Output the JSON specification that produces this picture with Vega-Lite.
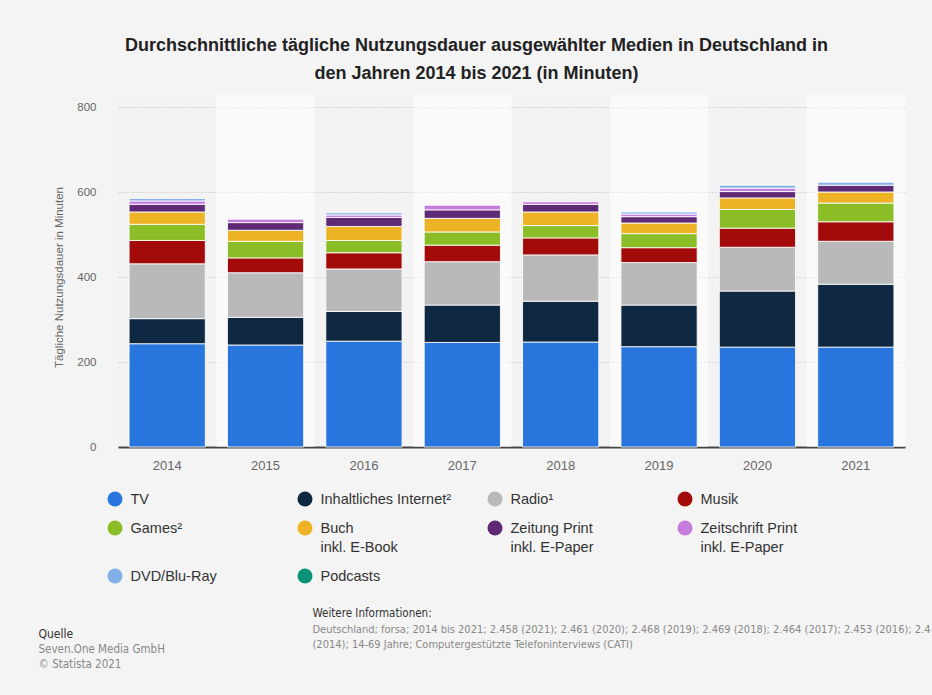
{
  "$schema": "https://vega.github.io/schema/vega-lite/v6.json",
  "width": 787,
  "height": 340,
  "autosize": {"type": "none"},
  "padding": {"left": 118, "top": 107, "right": 27, "bottom": 248},
  "background": "#f4f4f4",
  "config": {
    "view": {"stroke": null},
    "font": "Liberation Sans",
    "style": {"guide-label": {"dy": -6, "lineHeight": 18.5}}
  },
  "title": {
    "text": ["Durchschnittliche tägliche Nutzungsdauer ausgewählter Medien in Deutschland in", "den Jahren 2014 bis 2021 (in Minuten)"],
    "fontSize": 18,
    "fontWeight": "bold",
    "color": "#222222",
    "lineHeight": 28,
    "anchor": "middle",
    "frame": "group",
    "dx": -35,
    "offset": 12
  },
  "datasets": {
    "hell": [{"Jahr": "2015"}, {"Jahr": "2017"}, {"Jahr": "2019"}, {"Jahr": "2021"}],
    "dunkel": [{"Jahr": "2014"}, {"Jahr": "2016"}, {"Jahr": "2018"}, {"Jahr": "2020"}],
    "medien": [
      {"Medium": "TV", "Rang": 1},
      {"Medium": "Inhaltliches Internet²", "Rang": 2},
      {"Medium": "Radio¹", "Rang": 3},
      {"Medium": "Musik", "Rang": 4},
      {"Medium": "Games²", "Rang": 5},
      {"Medium": "Buch inkl. E-Book", "Rang": 6},
      {"Medium": "Zeitung Print inkl. E-Paper", "Rang": 7},
      {"Medium": "Zeitschrift Print inkl. E-Paper", "Rang": 8},
      {"Medium": "DVD/Blu-Ray", "Rang": 9},
      {"Medium": "Podcasts", "Rang": 10}
    ],
    "werte": [
      {"Jahr": "2014", "Medium": "TV", "Minuten": 243},
      {"Jahr": "2014", "Medium": "Inhaltliches Internet²", "Minuten": 59},
      {"Jahr": "2014", "Medium": "Radio¹", "Minuten": 129},
      {"Jahr": "2014", "Medium": "Musik", "Minuten": 55},
      {"Jahr": "2014", "Medium": "Games²", "Minuten": 38},
      {"Jahr": "2014", "Medium": "Buch inkl. E-Book", "Minuten": 29},
      {"Jahr": "2014", "Medium": "Zeitung Print inkl. E-Paper", "Minuten": 18},
      {"Jahr": "2014", "Medium": "Zeitschrift Print inkl. E-Paper", "Minuten": 8},
      {"Jahr": "2014", "Medium": "DVD/Blu-Ray", "Minuten": 6},
      {"Jahr": "2015", "Medium": "TV", "Minuten": 240},
      {"Jahr": "2015", "Medium": "Inhaltliches Internet²", "Minuten": 65},
      {"Jahr": "2015", "Medium": "Radio¹", "Minuten": 105},
      {"Jahr": "2015", "Medium": "Musik", "Minuten": 35},
      {"Jahr": "2015", "Medium": "Games²", "Minuten": 39},
      {"Jahr": "2015", "Medium": "Buch inkl. E-Book", "Minuten": 26},
      {"Jahr": "2015", "Medium": "Zeitung Print inkl. E-Paper", "Minuten": 18},
      {"Jahr": "2015", "Medium": "Zeitschrift Print inkl. E-Paper", "Minuten": 8},
      {"Jahr": "2016", "Medium": "TV", "Minuten": 249},
      {"Jahr": "2016", "Medium": "Inhaltliches Internet²", "Minuten": 70},
      {"Jahr": "2016", "Medium": "Radio¹", "Minuten": 100},
      {"Jahr": "2016", "Medium": "Musik", "Minuten": 38},
      {"Jahr": "2016", "Medium": "Games²", "Minuten": 29},
      {"Jahr": "2016", "Medium": "Buch inkl. E-Book", "Minuten": 33},
      {"Jahr": "2016", "Medium": "Zeitung Print inkl. E-Paper", "Minuten": 21},
      {"Jahr": "2016", "Medium": "Zeitschrift Print inkl. E-Paper", "Minuten": 6},
      {"Jahr": "2016", "Medium": "DVD/Blu-Ray", "Minuten": 5},
      {"Jahr": "2017", "Medium": "TV", "Minuten": 246},
      {"Jahr": "2017", "Medium": "Inhaltliches Internet²", "Minuten": 88},
      {"Jahr": "2017", "Medium": "Radio¹", "Minuten": 102},
      {"Jahr": "2017", "Medium": "Musik", "Minuten": 39},
      {"Jahr": "2017", "Medium": "Games²", "Minuten": 31},
      {"Jahr": "2017", "Medium": "Buch inkl. E-Book", "Minuten": 32},
      {"Jahr": "2017", "Medium": "Zeitung Print inkl. E-Paper", "Minuten": 20},
      {"Jahr": "2017", "Medium": "Zeitschrift Print inkl. E-Paper", "Minuten": 11},
      {"Jahr": "2018", "Medium": "TV", "Minuten": 247},
      {"Jahr": "2018", "Medium": "Inhaltliches Internet²", "Minuten": 96},
      {"Jahr": "2018", "Medium": "Radio¹", "Minuten": 109},
      {"Jahr": "2018", "Medium": "Musik", "Minuten": 40},
      {"Jahr": "2018", "Medium": "Games²", "Minuten": 29},
      {"Jahr": "2018", "Medium": "Buch inkl. E-Book", "Minuten": 32},
      {"Jahr": "2018", "Medium": "Zeitung Print inkl. E-Paper", "Minuten": 18},
      {"Jahr": "2018", "Medium": "Zeitschrift Print inkl. E-Paper", "Minuten": 6},
      {"Jahr": "2019", "Medium": "TV", "Minuten": 236},
      {"Jahr": "2019", "Medium": "Inhaltliches Internet²", "Minuten": 98},
      {"Jahr": "2019", "Medium": "Radio¹", "Minuten": 100},
      {"Jahr": "2019", "Medium": "Musik", "Minuten": 35},
      {"Jahr": "2019", "Medium": "Games²", "Minuten": 33},
      {"Jahr": "2019", "Medium": "Buch inkl. E-Book", "Minuten": 25},
      {"Jahr": "2019", "Medium": "Zeitung Print inkl. E-Paper", "Minuten": 15},
      {"Jahr": "2019", "Medium": "Zeitschrift Print inkl. E-Paper", "Minuten": 6},
      {"Jahr": "2019", "Medium": "DVD/Blu-Ray", "Minuten": 5},
      {"Jahr": "2020", "Medium": "TV", "Minuten": 235},
      {"Jahr": "2020", "Medium": "Inhaltliches Internet²", "Minuten": 132},
      {"Jahr": "2020", "Medium": "Radio¹", "Minuten": 103},
      {"Jahr": "2020", "Medium": "Musik", "Minuten": 45},
      {"Jahr": "2020", "Medium": "Games²", "Minuten": 44},
      {"Jahr": "2020", "Medium": "Buch inkl. E-Book", "Minuten": 27},
      {"Jahr": "2020", "Medium": "Zeitung Print inkl. E-Paper", "Minuten": 15},
      {"Jahr": "2020", "Medium": "Zeitschrift Print inkl. E-Paper", "Minuten": 8},
      {"Jahr": "2020", "Medium": "DVD/Blu-Ray", "Minuten": 7},
      {"Jahr": "2021", "Medium": "TV", "Minuten": 235},
      {"Jahr": "2021", "Medium": "Inhaltliches Internet²", "Minuten": 148},
      {"Jahr": "2021", "Medium": "Radio¹", "Minuten": 101},
      {"Jahr": "2021", "Medium": "Musik", "Minuten": 46},
      {"Jahr": "2021", "Medium": "Games²", "Minuten": 44},
      {"Jahr": "2021", "Medium": "Buch inkl. E-Book", "Minuten": 26},
      {"Jahr": "2021", "Medium": "Zeitung Print inkl. E-Paper", "Minuten": 16},
      {"Jahr": "2021", "Medium": "DVD/Blu-Ray", "Minuten": 7}
    ]
  },
  "layer": [
    {
      "data": {"name": "dunkel"},
      "mark": {"type": "rect", "fill": "#eeeeee", "opacity": 0.05},
      "encoding": {
        "x": {
          "field": "Jahr", "type": "nominal",
          "scale": {"paddingInner": 0, "paddingOuter": 0},
          "axis": {
            "orient": "bottom",
            "title": ["Seven.One Media GmbH", "© Statista 2021"],
            "titleX": -80, "titleY": 196, "titleAlign": "left", "titleAnchor": null, "titleBaseline": "top",
            "titleFont": "'Liberation Sans Narrow', 'DejaVu Sans Condensed', 'Liberation Sans', sans-serif",
            "titleFontSize": 11.5, "titleFontWeight": "normal", "titleColor": "#888888", "titleLineHeight": 15,
            "titleLimit": 1000,
            "labels": false, "ticks": false, "domain": false, "grid": false
          }
        },
        "y": {
          "datum": 0, "type": "quantitative",
          "scale": {"domain": [0, 800]},
          "axis": {
            "orient": "left",
            "title": ["Deutschland; forsa; 2014 bis 2021; 2.458 (2021); 2.461 (2020); 2.468 (2019); 2.469 (2018); 2.464 (2017); 2.453 (2016); 2.4", "(2014); 14-69 Jahre; Computergestützte Telefoninterviews (CATI)"],
            "titleAngle": 0, "titleX": 194, "titleY": 516, "titleAlign": "left", "titleAnchor": null, "titleBaseline": "top",
            "titleFont": "'Liberation Sans Narrow', 'DejaVu Sans Condensed', 'Liberation Sans', sans-serif",
            "titleFontSize": 11, "titleFontWeight": "normal", "titleColor": "#888888", "titleLineHeight": 15,
            "titleLimit": 2000,
            "labels": false, "ticks": false, "domain": false, "grid": false
          }
        },
        "y2": {"datum": 828}
      }
    },
    {
      "data": {"name": "hell"},
      "mark": {"type": "rect", "fill": "#ffffff", "opacity": 0.5},
      "encoding": {
        "x": {
          "field": "Jahr", "type": "nominal",
          "axis": {
            "orient": "bottom",
            "title": "Quelle",
            "titleX": -80, "titleY": 186, "titleAlign": "left", "titleAnchor": null, "titleBaseline": "middle",
            "titleFont": "'Liberation Sans Narrow', 'DejaVu Sans Condensed', 'Liberation Sans', sans-serif",
            "titleFontSize": 12, "titleFontWeight": "normal", "titleColor": "#333333",
            "labels": false, "ticks": false, "domain": false, "grid": false
          }
        },
        "y": {
          "datum": 0, "type": "quantitative",
          "axis": {
            "orient": "left",
            "title": "Weitere Informationen:",
            "titleAngle": 0, "titleX": 194, "titleY": 506, "titleAlign": "left", "titleAnchor": null, "titleBaseline": "middle",
            "titleFont": "'Liberation Sans Narrow', 'DejaVu Sans Condensed', 'Liberation Sans', sans-serif",
            "titleFontSize": 11.5, "titleFontWeight": "normal", "titleColor": "#333333",
            "labels": false, "ticks": false, "domain": false, "grid": false
          }
        },
        "y2": {"datum": 828}
      }
    },
    {
      "data": {"name": "werte"},
      "transform": [
        {"lookup": "Medium", "from": {"data": {"name": "medien"}, "key": "Medium", "fields": ["Rang"]}}
      ],
      "mark": {"type": "bar", "width": {"band": 0.775}, "stroke": "#ffffff", "strokeWidth": 1, "strokeOpacity": 0.85},
      "encoding": {
        "x": {
          "field": "Jahr", "type": "nominal",
          "axis": {
            "orient": "bottom",
            "title": null, "labelAngle": 0, "labelFontSize": 13, "labelColor": "#666666", "labelPadding": 18,
            "ticks": false, "domain": true, "domainColor": "#444444", "domainWidth": 2, "grid": false
          }
        },
        "y": {
          "field": "Minuten", "type": "quantitative", "stack": "zero",
          "scale": {"domain": [0, 800]},
          "axis": {
            "orient": "left",
            "title": "Tägliche Nutzungsdauer in Minuten",
            "values": [0, 200, 400, 600, 800],
            "labelFontSize": 11.5, "labelColor": "#666666", "labelPadding": 22, "labelOffset": 6,
            "ticks": false, "domain": false, "grid": true, "gridColor": "#bbbbbb", "gridDash": [1, 2], "gridWidth": 1,
            "titleFontSize": 11.5, "titleFontWeight": "normal", "titleColor": "#666666", "titlePadding": 12
          }
        },
        "order": {"field": "Rang", "type": "quantitative", "sort": "ascending"},
        "color": {
          "field": "Medium", "type": "nominal",
          "sort": ["TV", "Inhaltliches Internet²", "Radio¹", "Musik", "Games²", "Buch inkl. E-Book", "Zeitung Print inkl. E-Paper", "Zeitschrift Print inkl. E-Paper", "DVD/Blu-Ray", "Podcasts"],
          "scale": {
            "domain": ["TV", "Inhaltliches Internet²", "Radio¹", "Musik", "Games²", "Buch inkl. E-Book", "Zeitung Print inkl. E-Paper", "Zeitschrift Print inkl. E-Paper", "DVD/Blu-Ray", "Podcasts"],
            "range": ["#2876dd", "#0f2841", "#b9b9b9", "#a30b0b", "#8bbd26", "#edb324", "#5e2a76", "#c67cdc", "#83b0e8", "#0a9475"]
          },
          "legend": {
            "orient": "none", "legendX": -10.5, "legendY": 384.5, "padding": 0,
            "direction": "horizontal", "columns": 4, "title": null,
            "symbolType": "circle", "symbolSize": 225, "symbolStrokeWidth": 0, "symbolOpacity": 1,
            "labelFontSize": 14.5, "labelColor": "#333333", "labelOffset": 8, "labelLimit": 220,
            "columnPadding": 36, "rowPadding": 14,
            "gridAlign": {"row": "each", "column": "all"},
            "labelBaseline": "top",
            "labelExpr": "split(replace(datum.label, ' inkl.', '|inkl.'), '|')"
          }
        }
      }
    }
  ],
  "resolve": {"axis": {"x": "independent", "y": "independent"}}
}
